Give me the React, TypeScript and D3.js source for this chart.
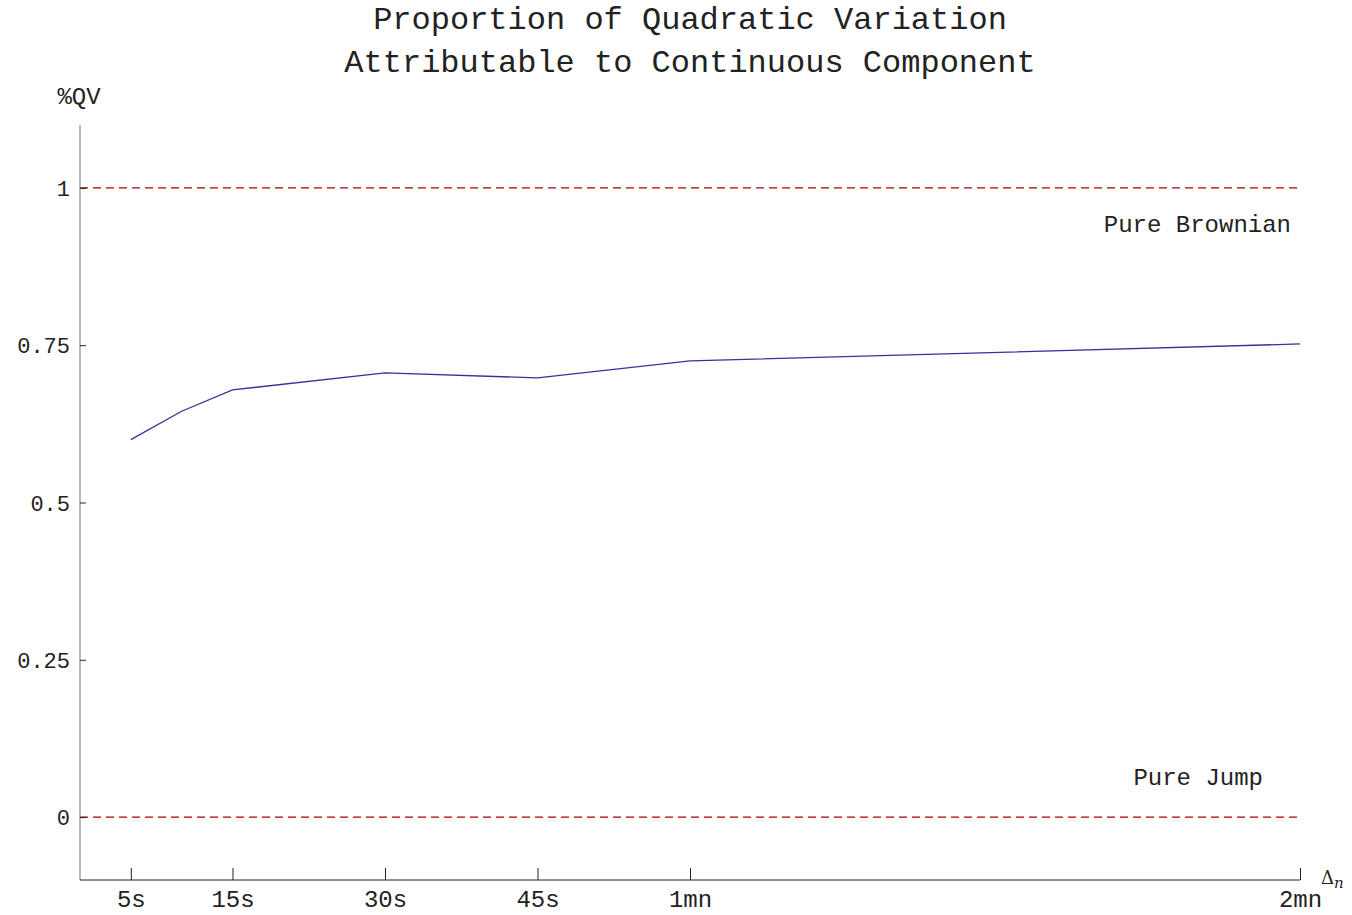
import React, { useRef, useEffect } from "react";
import * as d3 from "d3";

// seconds -> share of QV from continuous part
const seconds = [5, 10, 15, 30, 45, 60, 120];
const shareQV = [0.6, 0.645, 0.679, 0.706, 0.698, 0.725, 0.752];
const xTicks = [5, 15, 30, 45, 60, 120];
const xTickLabels = ["5s", "15s", "30s", "45s", "1mn", "2mn"];
const yTicks = [0, 0.25, 0.5, 0.75, 1];
const yTickLabels = ["0", "0.25", "0.5", "0.75", "1"];
const refLevels = [1, 0];

const mono = "'Liberation Mono', 'DejaVu Sans Mono', monospace";

const App = () => {
  const svgRef = useRef<SVGSVGElement>(null);

  useEffect(() => {
    const svg = d3.select(svgRef.current);
    svg.selectAll("*").remove();

    const x = d3.scaleLinear().domain([0, 120]).range([80, 1300]);
    const y = d3.scaleLinear().domain([-0.1, 1.1]).range([880, 125]);

    // title
    const title = svg.append("text")
      .attr("text-anchor", "middle")
      .style("font-family", mono)
      .style("font-size", "32px")
      .attr("fill", "#222");
    title.append("tspan").attr("x", 690).attr("y", 29).text("Proportion of Quadratic Variation");
    title.append("tspan").attr("x", 690).attr("y", 72).text("Attributable to Continuous Component");

    // reference lines
    svg.selectAll("line.ref")
      .data(refLevels)
      .enter()
      .append("line")
      .attr("class", "ref")
      .attr("x1", x(0))
      .attr("x2", x(120))
      .attr("y1", d => y(d))
      .attr("y2", d => y(d))
      .attr("stroke", "#b00000")
      .attr("stroke-width", 1.2)
      .attr("stroke-dasharray", "8,5");

    // axes
    const yAxis = svg.append("g")
      .attr("transform", `translate(${x(0)},0)`)
      .call(
        d3.axisRight(y)
          .tickValues(yTicks)
          .tickSize(6)
          .tickFormat((d, i) => yTickLabels[i])
      );
    yAxis.select(".domain").attr("stroke", "#777").attr("d", `M0,${y(-0.1)}V${y(1.1)}`);
    yAxis.selectAll(".tick line").attr("stroke", "#222");
    yAxis.selectAll(".tick text")
      .attr("x", -10)
      .attr("text-anchor", "end")
      .attr("dy", "0.35em")
      .attr("fill", "#222")
      .style("font-family", mono)
      .style("font-size", "22px");

    const xAxis = svg.append("g")
      .attr("transform", `translate(0,${y(-0.1)})`)
      .call(
        d3.axisTop(x)
          .tickValues(xTicks)
          .tickSize(12)
          .tickFormat((d, i) => xTickLabels[i])
      );
    xAxis.select(".domain").attr("stroke", "#222").attr("d", `M${x(0)},0H${x(120)}`);
    xAxis.selectAll(".tick line").attr("stroke", "#222");
    xAxis.selectAll(".tick text")
      .attr("y", 27)
      .attr("dy", 0)
      .attr("fill", "#222")
      .style("font-family", mono)
      .style("font-size", "24px");

    // axis labels
    svg.append("text")
      .attr("x", 79)
      .attr("y", 104)
      .attr("text-anchor", "middle")
      .attr("fill", "#222")
      .style("font-family", mono)
      .style("font-size", "24px")
      .text("%QV");

    const dl = svg.append("text")
      .attr("x", 1321)
      .attr("y", 884)
      .attr("fill", "#222")
      .style("font-family", "'DejaVu Serif', 'Liberation Serif', serif")
      .style("font-size", "18px");
    dl.append("tspan").text("Δ");
    dl.append("tspan").attr("dy", 4).style("font-style", "italic").style("font-size", "15px").text("n");

    // annotations
    svg.append("text")
      .attr("x", 1291)
      .attr("y", 232)
      .attr("text-anchor", "end")
      .attr("fill", "#222")
      .style("font-family", mono)
      .style("font-size", "24px")
      .text("Pure Brownian");
    svg.append("text")
      .attr("x", 1263)
      .attr("y", 785)
      .attr("text-anchor", "end")
      .attr("fill", "#222")
      .style("font-family", mono)
      .style("font-size", "24px")
      .text("Pure Jump");

    // series
    const line = d3.line<number>()
      .x((d, i) => x(seconds[i]))
      .y(d => y(d));
    svg.append("path")
      .datum(shareQV)
      .attr("d", line)
      .attr("fill", "none")
      .attr("stroke", "#33339a")
      .attr("stroke-width", 1.3);
  }, []);

  return <svg ref={svgRef} width={1352} height={915} style={{ position: "absolute", left: 0, top: 0 }}></svg>;
};

export default App;
